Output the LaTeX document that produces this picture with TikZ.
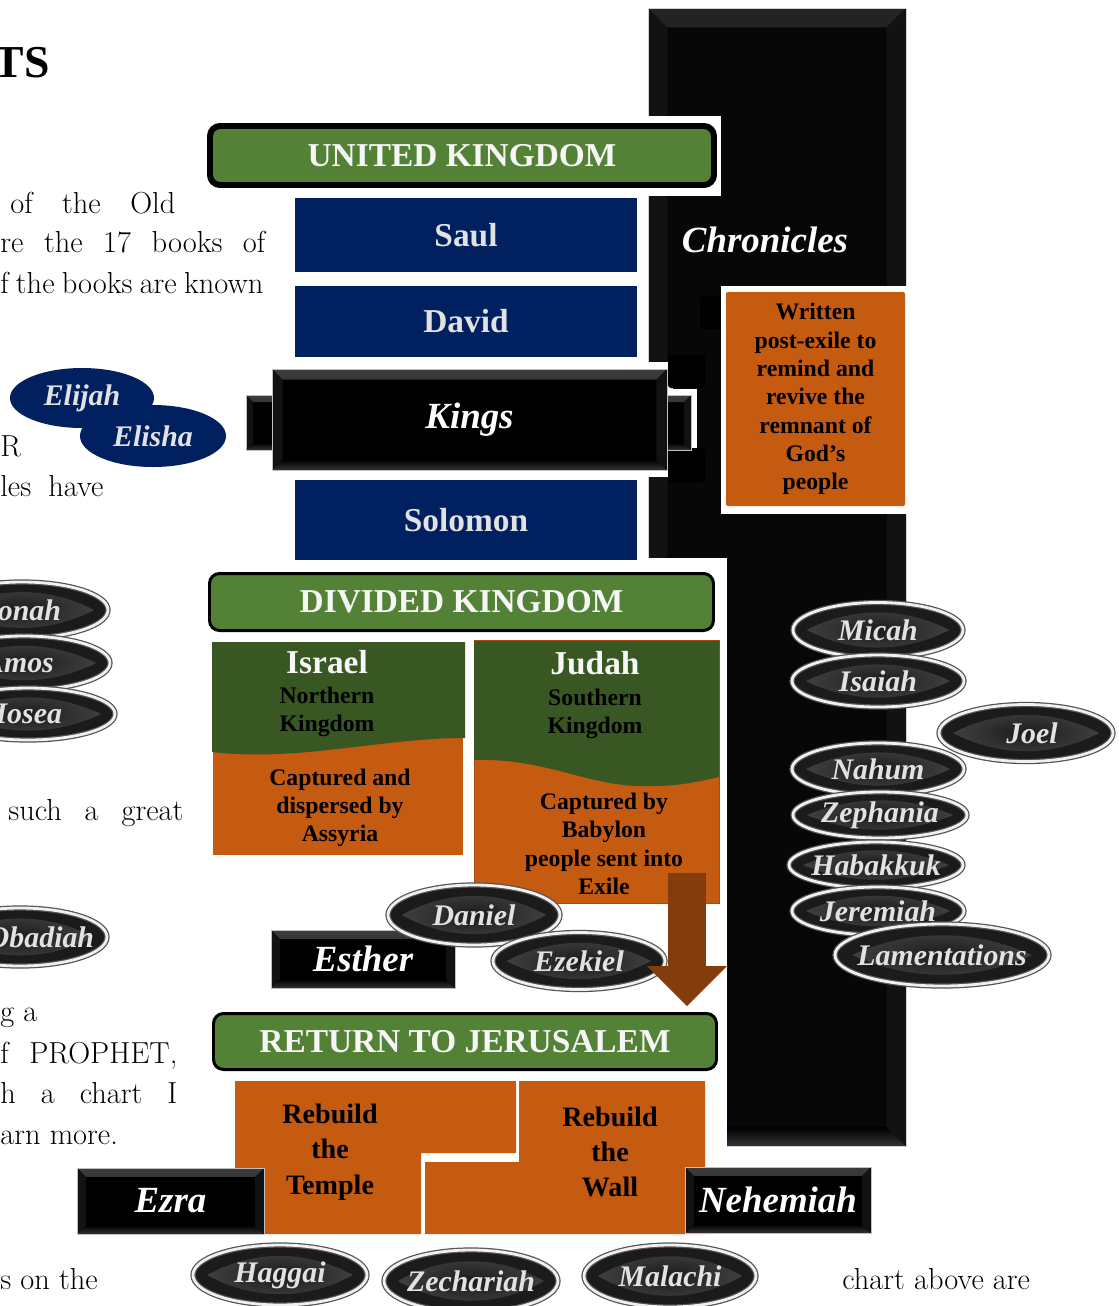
\documentclass[tikz,border=0pt]{standalone}
\usepackage{fontspec}
\newfontfamily\chartfont{Liberation Serif}
\usetikzlibrary{shapes.geometric,arrows.meta,calc}

\definecolor{navy}{HTML}{002060}
\definecolor{kgreen}{HTML}{538135}
\definecolor{dkgreen}{HTML}{385723}
\definecolor{rust}{HTML}{C55A11}
\definecolor{brownarrow}{HTML}{843C0C}
\definecolor{coal}{HTML}{070707}
\definecolor{ovalfill}{HTML}{1B1B1B}
\definecolor{lighttext}{HTML}{E2E2E2}

\newlength\upx \setlength\upx{0.02cm}
\newlength\bevw \setlength\bevw{5pt}
\newcommand\bevtop{48}
\newcommand\olabel[1]{\makebox[0pt]{#1}}

\tikzset{
  bevel size/.code={\setlength\bevw{#1}},
  bevel light/.code={\renewcommand\bevtop{#1}},
  bevelbox/.style={rectangle, fill=black, draw=gray!50, line width=0.5pt, inner sep=0pt,
    text=white, font=\chartfont\bfseries\itshape\fontsize{21}{24}\selectfont,
    path picture={
      \shade[top color=gray!\bevtop!black, bottom color=black]
        (path picture bounding box.north west) -- (path picture bounding box.north east)
        -- ([shift={(-\bevw,-\bevw)}]path picture bounding box.north east)
        -- ([shift={(\bevw,-\bevw)}]path picture bounding box.north west) -- cycle;
      \shade[top color=black, bottom color=gray!40!black]
        (path picture bounding box.south west) -- (path picture bounding box.south east)
        -- ([shift={(-\bevw,\bevw)}]path picture bounding box.south east)
        -- ([shift={(\bevw,\bevw)}]path picture bounding box.south west) -- cycle;
      \fill[gray!14!black]
        (path picture bounding box.north west) -- ([shift={(\bevw,-\bevw)}]path picture bounding box.north west)
        -- ([shift={(\bevw,\bevw)}]path picture bounding box.south west) -- (path picture bounding box.south west) -- cycle;
      \fill[gray!14!black]
        (path picture bounding box.north east) -- ([shift={(-\bevw,-\bevw)}]path picture bounding box.north east)
        -- ([shift={(-\bevw,\bevw)}]path picture bounding box.south east) -- (path picture bounding box.south east) -- cycle;
    }},
  prophet/.style={ellipse, fill=ovalfill, draw=gray!65!black, line width=0.7pt,
    double=gray!12, double distance=1.6pt, inner sep=0pt, text=lighttext,
    font=\chartfont\bfseries\itshape\fontsize{17}{20}\selectfont,
    path picture={
      \shade[inner color=ovalfill, outer color=gray!55!black]
        let \p1=(path picture bounding box.center), \p2=(path picture bounding box.north east) in
        ({\x1-0.84*(\x2-\x1)},\y1)
        .. controls ({\x1-0.3*(\x2-\x1)},{\y1+0.85*(\y2-\y1)}) and ({\x1+0.3*(\x2-\x1)},{\y1+0.85*(\y2-\y1)}) .. ({\x1+0.84*(\x2-\x1)},\y1)
        .. controls ({\x1+0.3*(\x2-\x1)},{\y1-0.85*(\y2-\y1)}) and ({\x1-0.3*(\x2-\x1)},{\y1-0.85*(\y2-\y1)}) .. ({\x1-0.84*(\x2-\x1)},\y1) -- cycle;
    }},
  blueoval/.style={ellipse, fill=navy, inner sep=0pt, text=lighttext,
    font=\chartfont\bfseries\itshape\fontsize{17}{20}\selectfont},
  headbox/.style={rectangle, rounded corners=10\upx, fill=kgreen, draw=black, inner sep=0pt,
    text=white!93!gray, font=\chartfont\bfseries\fontsize{19}{22}\selectfont},
  kingbox/.style={rectangle, fill=navy, minimum width=342\upx, inner sep=0pt,
    text=lighttext, font=\chartfont\bfseries\fontsize{19}{22}\selectfont},
  bigname/.style={text=white!93!gray, inner sep=0pt, font=\chartfont\bfseries\fontsize{19}{22}\selectfont},
  smalltext/.style={align=center, inner sep=0pt, text=black,
    font=\chartfont\bfseries\fontsize{13.5}{16.1}\selectfont},
  rebuildtext/.style={align=center, inner sep=0pt, text=black,
    font=\chartfont\bfseries\fontsize{16}{20.1}\selectfont},
  bodytext/.style={anchor=base west, inner sep=0pt, font=\fontsize{17.3}{21}\selectfont},
}

\begin{document}
\begin{tikzpicture}[x=0.02cm, y=-0.02cm]
\clip (0,0) rectangle (1119,1306);

% page text cut at the left edge
\node[bodytext, anchor=base east, font=\chartfont\bfseries\fontsize{26}{30}\selectfont] (title) at (50,77) {TS};
\node[bodytext] (l1) at (10,213) {\makebox[165\upx][s]{of the Old}};
\node[bodytext] (l2) at (0,252) {\makebox[265\upx][s]{re the 17 books of}};
\node[bodytext] (l3) at (0,293) {\makebox[263\upx][s]{f the books are known}};
\node[bodytext] (l4) at (0,456) {R};
\node[bodytext] (l5) at (0,496) {\makebox[103\upx][s]{les have}};
\node[bodytext] (l6) at (8,820) {\makebox[175\upx][s]{such a great}};
\node[bodytext] (l7) at (0,1021) {\makebox[37\upx][s]{g a}};
\node[bodytext] (l8) at (0,1063) {\makebox[177\upx][s]{f PROPHET,}};
\node[bodytext] (l9) at (0,1103) {\makebox[177\upx][s]{h a chart I}};
\node[bodytext] (l10) at (0,1144) {arn more.};
\node[bodytext] (l11) at (0,1289) {s on the};
\node[bodytext] (l12) at (842,1289) {chart above are};

% Chronicles column
\node[bevelbox, fill=coal, bevel size=11pt, bevel light=28, draw=gray!35, minimum width=258\upx, minimum height=1138\upx] (chroncol) at (777,577) {};
\node[text=white, inner sep=0pt, font=\chartfont\bfseries\itshape\fontsize{21}{24}\selectfont] (chron) at (765,240) {Chronicles};

% white margins in front of the column
\fill[white] (266,362) rectangle (673,477);
\fill[white] (240,389) rectangle (697,456);
\fill[black, rounded corners=3\upx] (668,354) rectangle (705,388);
\fill[black, rounded corners=3\upx] (668,448) rectangle (705,482);
\fill[black, rounded corners=3\upx] (700,296) rectangle (730,329);
\fill[white] (721,286) rectangle (908,514);
\fill[white] (640,116) rectangle (721,196);
\fill[white] (640,558) rectangle (727,1150);

\node[smalltext, fill=rust, rounded corners=2\upx, minimum width=179\upx, minimum height=214\upx] (note) at (815.5,399)
  {Written\\post-exile to\\remind and\\revive the\\remnant of\\God’s\\people};

% United Kingdom
\node[headbox, line width=3.4pt, minimum width=504\upx, minimum height=59\upx] (uk) at (462,155.5) {UNITED KINGDOM};
\node[kingbox, minimum height=74\upx] (saul) at (466,235) {Saul};
\node[kingbox, minimum height=71\upx] (david) at (466,321.5) {David};
\node[bevelbox, bevel size=4pt, minimum width=44\upx, minimum height=55\upx] (ktabl) at (268,422.5) {};
\node[bevelbox, bevel size=4pt, minimum width=44\upx, minimum height=55\upx] (ktabr) at (669,422.5) {};
\node[bevelbox, bevel size=6pt, minimum width=395\upx, minimum height=101\upx] (kings) at (469.5,419.5) {Kings};
\node[kingbox, minimum height=80\upx] (solomon) at (466,520) {Solomon};

\node[blueoval, minimum width=144\upx, minimum height=60\upx] (elijah) at (82,398) {Elijah};
\node[blueoval, minimum width=146\upx, minimum height=62\upx] (elisha) at (153,436) {Elisha};

% Divided Kingdom
\node[headbox, line width=1.7pt, minimum width=504\upx, minimum height=57\upx] (dk) at (461.5,602) {DIVIDED KINGDOM};

\fill[rust] (213,735) rectangle (463,855);
\fill[dkgreen] (212,642) -- (465,642) -- (465,738) .. controls (380,738) and (300,762) .. (212,752) -- cycle;
\node[bigname] (israel) at (327,662) {Israel};
\node[smalltext] (north) at (327,712) {Northern\\Kingdom};
\node[smalltext] (assyria) at (340,808) {Captured and\\dispersed by\\Assyria};

\filldraw[fill=rust, draw=rust!85!black, line width=0.5pt] (474,640) rectangle (719,903);
\fill[dkgreen] (474,641) -- (719,641) -- (719,777) .. controls (700,781) and (680,787) .. (640,786)
  .. controls (585,785) and (545,758) .. (474,760) -- cycle;
\node[bigname] (judah) at (595,663) {Judah};
\node[smalltext] (south) at (595,714) {Southern\\Kingdom};
\node[smalltext] (babylon) at (604,844) {Captured by\\Babylon\\people sent into\\Exile};

% exile
\node[bevelbox, minimum width=184\upx, minimum height=58\upx] (esther) at (363,959) {Esther};
\node[prophet, minimum width=172\upx, minimum height=60\upx] (daniel) at (474,915) {\olabel{Daniel}};
\node[prophet, minimum width=172\upx, minimum height=57\upx] (ezekiel) at (579,961) {\olabel{Ezekiel}};
\coordinate (exilefrom) at (687,873);
\coordinate (exileto) at (687,1006);
\draw[brownarrow, line width=22.1pt, -{Triangle[width=45.4pt, length=22.7pt, line width=0pt]}] (exilefrom) -- (exileto);

% prophets on the left
\node[prophet, minimum width=172\upx, minimum height=56\upx] (jonah) at (22,610) {\olabel{Jonah}};
\node[prophet, minimum width=172\upx, minimum height=54\upx] (amos) at (24,663) {\olabel{Amos\hspace*{10\upx}}};
\node[prophet, minimum width=174\upx, minimum height=52\upx] (hosea) at (28,714) {\olabel{Hosea\hspace*{10\upx}}};
\node[prophet, minimum width=174\upx, minimum height=58\upx] (obadiah) at (20,937) {\olabel{\hspace*{42\upx}Obadiah}};

% prophets on the right
\node[prophet, minimum width=170\upx, minimum height=55\upx] (micah) at (878,630) {\olabel{Micah}};
\node[prophet, minimum width=172\upx, minimum height=52\upx] (isaiah) at (878,681) {\olabel{Isaiah}};
\node[prophet, minimum width=174\upx, minimum height=57\upx] (joel) at (1026,733) {\olabel{\hspace*{12\upx}Joel}};
\node[prophet, minimum width=172\upx, minimum height=52\upx] (nahum) at (878,769) {\olabel{Nahum}};
\node[prophet, minimum width=174\upx, minimum height=46\upx] (zephania) at (880,815) {\olabel{Zephania}};
\node[prophet, minimum width=174\upx, minimum height=46\upx] (habakkuk) at (876,865) {\olabel{Habakkuk}};
\node[prophet, minimum width=172\upx, minimum height=48\upx] (jeremiah) at (878,911) {\olabel{Jeremiah}};
\node[prophet, minimum width=214\upx, minimum height=62\upx] (lament) at (942,955) {\olabel{Lamentations}};

% Return to Jerusalem
\node[headbox, line width=1.7pt, minimum width=503\upx, minimum height=56\upx] (ret) at (465,1041.5) {RETURN TO JERUSALEM};
\fill[rust] (235,1081) -- (516,1081) -- (516,1153) -- (421,1153) -- (421,1234) -- (235,1234) -- cycle;
\fill[rust] (519,1081) -- (705,1081) -- (705,1234) -- (425,1234) -- (425,1162) -- (519,1162) -- cycle;
\node[rebuildtext] (temple) at (330,1152) {Rebuild\\the\\Temple};
\node[rebuildtext] (wall) at (610,1152) {Rebuild\\the\\Wall};
\node[bevelbox, minimum width=187\upx, minimum height=66\upx] (ezra) at (170.5,1201) {Ezra};
\node[bevelbox, minimum width=186\upx, minimum height=66\upx] (nehemiah) at (778,1200) {Nehemiah};

\node[prophet, minimum width=174\upx, minimum height=60\upx] (haggai) at (280,1275) {\olabel{Haggai}};
\node[prophet, minimum width=174\upx, minimum height=62\upx] (zechariah) at (471,1281) {\olabel{Zechariah}};
\node[prophet, minimum width=172\upx, minimum height=62\upx] (malachi) at (670,1276) {\olabel{Malachi}};
\end{tikzpicture}
\end{document}
